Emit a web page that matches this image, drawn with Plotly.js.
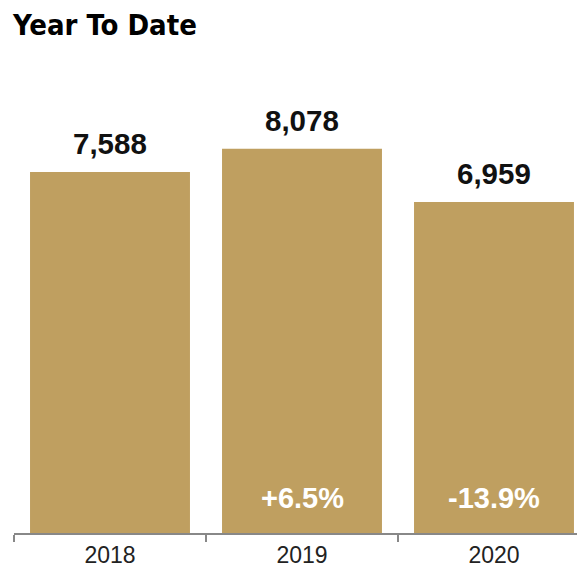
<!DOCTYPE html>
<html>
<head>
<meta charset="utf-8">
<script src="https://cdn.plot.ly/plotly-3.0.1.min.js"></script>
<style>html,body{margin:0;padding:0;background:#fff;}#chart{width:577px;height:569px;}</style>
</head>
<body>
<div id="chart"></div>
<script>
var categories = ["2018", "2019", "2020"];
var values = [7588, 8078, 6959];
var valueLabels = ["7,588", "8,078", "6,959"];
var changeLabels = ["", "+6.5%", "-13.9%"];

var barColor = "#BF9F60";
var annotations = [];
for (var i = 0; i < categories.length; i++) {
  annotations.push({
    x: i, y: values[i], xref: "x", yref: "y",
    text: "<b>" + valueLabels[i] + "</b>", showarrow: false,
    yanchor: "bottom", yshift: 10,
    font: {family: "Liberation Sans, Arial, sans-serif", size: 29.5, color: "#111"}
  });
  if (changeLabels[i]) {
    annotations.push({
      x: i, y: 0, xref: "x", yref: "y",
      text: "<b>" + changeLabels[i] + "</b>", showarrow: false,
      yanchor: "bottom", yshift: 17,
      font: {family: "Liberation Sans, Arial, sans-serif", size: 29, color: "#fff"}
    });
  }
}

var data = [{
  type: "bar", x: categories, y: values,
  marker: {color: barColor},
  hoverinfo: "none"
}];

var layout = {
  width: 577, height: 569,
  margin: {l: 14, r: 0, t: 60, b: 36},
  paper_bgcolor: "#fff", plot_bgcolor: "#fff",
  bargap: 0.167,
  showlegend: false,
  title: {
    text: "<b>Year To Date</b>",
    x: 13/577, xanchor: "left", xref: "container",
    y: 1 - 24.5/569, yanchor: "middle", yref: "container",
    font: {family: "DejaVu Sans Condensed, sans-serif", size: 29, color: "#000"}
  },
  xaxis: {
    type: "category",
    range: [-0.5, -0.5 + 563/192],
    tickson: "boundaries",
    ticks: "outside", ticklen: 7, tickwidth: 2, tickcolor: "#888",
    showline: true, linecolor: "#888", linewidth: 2,
    showgrid: false, zeroline: false,
    tickfont: {family: "Liberation Sans, Arial, sans-serif", size: 23, color: "#222"}
  },
  yaxis: {
    range: [0, 473 * 21.02],
    showticklabels: false, ticks: "", showline: false,
    showgrid: false, zeroline: false, fixedrange: true
  },
  annotations: annotations
};

Plotly.newPlot("chart", data, layout, {displayModeBar: false, staticPlot: true});
</script>
</body>
</html>
